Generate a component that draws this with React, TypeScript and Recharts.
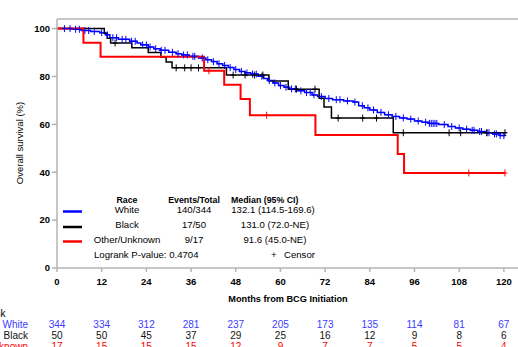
import React from 'react';
import { ComposedChart, Line, Scatter, XAxis, YAxis, ReferenceLine } from 'recharts';

const monthTicks = [0, 12, 24, 36, 48, 60, 72, 84, 96, 108, 120];
const survTicks = [0, 20, 40, 60, 80, 100];

// KM steps as [month, survival %]
const whiteSteps = [
  [0, 100], [4, 99.7], [6.5, 99.2], [9, 98.8], [11.5, 98.3], [13, 97.4], [14.2, 96.2], [16.5, 95.5],
  [19.5, 94.7], [21.5, 94.0], [22.5, 93.2], [24.5, 92.3], [26, 91.6], [27.7, 90.9], [30, 90.1],
  [32, 89.5], [33.5, 89.0], [35.5, 88.4], [38, 87.7], [40, 87.0], [41.5, 86.2], [43, 85.3],
  [44.5, 84.6], [46, 83.7], [47.5, 82.9], [49, 82.1], [50.5, 81.5], [52, 81.0], [54, 80.1],
  [55.5, 79.2], [56.5, 78.3], [58, 77.3], [59.5, 76.2], [61, 75.5], [62.5, 74.8], [64.5, 74.0],
  [66.5, 73.3], [68.5, 72.3], [70, 71.6], [72, 70.8], [74, 70.3], [77, 69.8], [79.5, 69.3],
  [81, 67.8], [82.5, 66.9], [84, 66.0], [86, 65.0], [88, 64.0], [90, 63.3], [92, 62.7],
  [94, 62.2], [96, 61.4], [98, 60.9], [100, 60.4], [102.5, 59.9], [105, 59.1], [107, 58.5],
  [109, 58.0], [111, 57.5], [113, 57.0], [115, 56.5], [117, 56.0], [119, 55.3], [120.3, 55.3],
];
const blackSteps = [
  [0, 100], [12.7, 98], [13.5, 96], [14.4, 94], [20.1, 92], [24.5, 90], [27.9, 88], [29.3, 86],
  [30.9, 83.6], [45.5, 80.6], [56.9, 78.1], [62.1, 74.7], [70.4, 70.9], [71.7, 67.2], [73.7, 62.6],
  [90.3, 56.5], [120.7, 56.5],
];
const otherSteps = [
  [0, 100], [7.1, 94.1], [11.7, 88.2], [39.5, 82.4], [44.9, 76.5], [49.3, 70.6], [51.8, 63.8],
  [69.4, 55.6], [91.5, 47.6], [93.2, 39.7], [120.3, 39.7],
];

// censor times (months)
const whiteCensors = [
  2, 3.5, 5, 6, 7.5, 8.5, 10, 12, 13.5, 15, 16, 17.5, 18.5, 20, 21, 23, 24, 25, 26.5, 28, 29, 31,
  32.5, 34, 35, 36.5, 37, 39, 40.5, 42, 43.5, 45, 46.5, 48, 49.5, 51, 52.5, 53.5, 55, 57, 58.5,
  60, 61.5, 63, 64, 65.5, 67, 68, 69, 71, 73, 75, 76, 78, 80, 82, 83.5, 85, 87, 89, 91, 93, 95,
  97, 99, 100, 100.5, 101, 101.5, 102, 104, 106, 108, 110, 111.5, 112, 113.5, 114, 115.5, 116,
  117.5, 118, 119, 120,
];
const blackCensors = [15.6, 32, 34.3, 36, 38, 47.3, 50.5, 53, 55.3, 64.3, 69.3, 75.5, 82.1, 85.8, 93, 105.3, 108.4, 115.4, 120.3];
const otherCensors = [40.8, 56.3, 110.6, 120.3];

const riskWhite = [344, 334, 312, 281, 237, 205, 173, 135, 114, 81, 67];
const riskBlack = [50, 50, 45, 37, 29, 25, 16, 12, 9, 8, 6];
const riskOther = [17, 15, 15, 15, 12, 9, 7, 7, 5, 5, 4];

const BLUE = '#0000ff';
const RED = '#ff0000';
const BLACK = '#000000';
const AXIS = '#b4b4b4';

const toPts = (steps: number[][]) => steps.map(([t, s]) => ({ t, s }));
const stepAt = (steps: number[][], t: number) => {
  let v = steps[0][1];
  for (const [m, s] of steps) if (m <= t) v = s;
  return v;
};
const censorPts = (steps: number[][], times: number[]) => times.map((t) => ({ t, s: stepAt(steps, t) }));

const plus = (color: string) => (props: any) => {
  const { cx, cy } = props;
  return <path d={`M${cx - 2.5},${cy}h5M${cx},${cy - 3.5}v7`} stroke={color} strokeWidth={1} fill="none" />;
};

const RiskTick = (props: any) => {
  const { x, payload } = props;
  const i = monthTicks.indexOf(payload.value);
  if (i < 0) return null;
  return (
    <g fontSize={10} textAnchor="middle">
      <text x={x} y={328} fill="#3c3cff">{riskWhite[i]}</text>
      <text x={x} y={339} fill="#111">{riskBlack[i]}</text>
      <text x={x} y={350} fill={RED}>{riskOther[i]}</text>
    </g>
  );
};

export default function App() {
  return (
    <div style={{ position: 'absolute', left: 0, top: 0, width: 518, height: 347, overflow: 'hidden', background: '#fff', fontFamily: '"Liberation Sans", Arial, sans-serif' }}>
      <ComposedChart width={518} height={347} margin={{ top: 19, right: 0, bottom: 0, left: 0 }}>
        <XAxis
          dataKey="t" type="number" domain={[0, 123.8]} ticks={monthTicks} allowDataOverflow
          height={40} stroke={AXIS} strokeWidth={1.5} tickSize={4} tickMargin={6}
          tick={{ fill: '#000', fontSize: 9.5, fontWeight: 'bold' }}
        />
        <XAxis
          xAxisId="risk" dataKey="t" type="number" domain={[0, 123.8]} ticks={monthTicks} allowDataOverflow
          height={39} axisLine={false} tickLine={false} tick={<RiskTick />}
        />
        <YAxis
          dataKey="s" type="number" domain={[0, 104]} ticks={survTicks} allowDataOverflow
          width={57} stroke={AXIS} strokeWidth={1.5} tickSize={5} tickMargin={2}
          tick={{ fill: '#000', fontSize: 9.5, fontWeight: 'bold' }}
        />
        <ReferenceLine y={104} stroke={AXIS} strokeWidth={1.5} />
        <Line data={toPts(whiteSteps)} dataKey="s" type="stepAfter" stroke={BLUE} strokeWidth={1.5} dot={false} isAnimationActive={false} />
        <Scatter data={censorPts(whiteSteps, whiteCensors)} dataKey="s" shape={plus(BLUE)} isAnimationActive={false} />
        <Line data={toPts(blackSteps)} dataKey="s" type="stepAfter" stroke={BLACK} strokeWidth={1.5} dot={false} isAnimationActive={false} />
        <Scatter data={censorPts(blackSteps, blackCensors)} dataKey="s" shape={plus(BLACK)} isAnimationActive={false} />
        <Line data={toPts(otherSteps)} dataKey="s" type="stepAfter" stroke={RED} strokeWidth={2} dot={false} isAnimationActive={false} />
        <Scatter data={censorPts(otherSteps, otherCensors)} dataKey="s" shape={plus(RED)} isAnimationActive={false} />
      </ComposedChart>
      <svg width={518} height={347} style={{ position: 'absolute', left: 0, top: 0, pointerEvents: 'none' }}>
        <text transform="translate(23,143) rotate(-90)" textAnchor="middle" fontSize={9.5}>Overall survival (%)</text>
        <text x={288} y={302} textAnchor="middle" fontSize={9.2} fontWeight="bold">Months from BCG Initiation</text>

        <g fontSize={9.6}>
          <g fontWeight="bold" fontSize={8.8}>
            <text x={127} y={202.5} textAnchor="middle">Race</text>
            <text x={194} y={202.5} textAnchor="middle">Events/Total</text>
            <text x={231} y={202.5}>Median (95% CI)</text>
          </g>
          <line x1={63} x2={82} y1={211.5} y2={211.5} stroke={BLUE} strokeWidth={2.5} />
          <line x1={63} x2={82} y1={227} y2={227} stroke={BLACK} strokeWidth={2.5} />
          <line x1={63} x2={82} y1={241.5} y2={241.5} stroke={RED} strokeWidth={2.5} />
          <g textAnchor="middle">
            <text x={127} y={213}>White</text>
            <text x={127} y={227.5}>Black</text>
            <text x={127} y={242.5}>Other/Unknown</text>
            <text x={194} y={213}>140/344</text>
            <text x={194} y={227.5}>17/50</text>
            <text x={194} y={242.5}>9/17</text>
            <text x={273} y={213}>132.1 (114.5-169.6)</text>
            <text x={275} y={227.5}>131.0 (72.0-NE)</text>
            <text x={275} y={242.5}>91.6 (45.0-NE)</text>
          </g>
          <text x={94} y={257.5}>Logrank P-value: 0.4704</text>
          <text x={271} y={257.5}>+</text>
          <text x={284} y={257.5}>Censor</text>
        </g>

        <g fontSize={10} textAnchor="end">
          <text x={5.5} y={317}>At risk</text>
          <text x={28} y={328} fill="#3c3cff">White</text>
          <text x={28} y={339} fill="#111">Black</text>
          <text x={28} y={350} fill={RED}>Other/Unknown</text>
        </g>
      </svg>
    </div>
  );
}
